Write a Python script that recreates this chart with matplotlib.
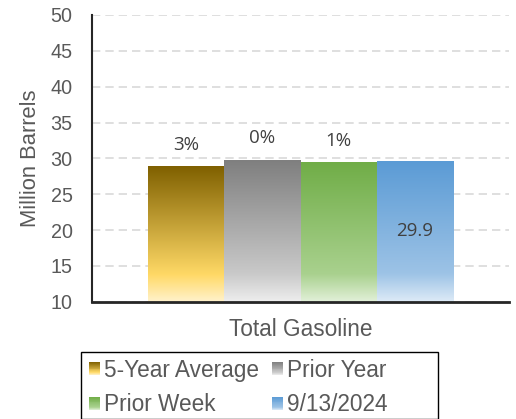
import numpy as np
import matplotlib
matplotlib.use("Agg")
import matplotlib.pyplot as plt
from matplotlib.colors import LinearSegmentedColormap
from matplotlib.legend_handler import HandlerBase
from matplotlib.patches import Rectangle

# ---- data ----
categories = ["Total Gasoline"]
series_names = ["5-Year Average", "Prior Year", "Prior Week", "9/13/2024"]
values = [28.9, 29.8, 29.4, 29.6]
pct_labels = ["3%", "0%", "1%", ""]
value_labels = ["", "", "", "29.9"]
y_ticks = [10, 15, 20, 25, 30, 35, 40, 45, 50]

# gradient stops, top -> bottom
grad_stops = [
    [(0.0, "#7F6000"), (0.8, "#FFD966"), (1.0, "#FFF2CC")],
    [(0.0, "#7F7F7F"), (0.8, "#C9C9C9"), (1.0, "#EEEEEE")],
    [(0.0, "#70AD47"), (0.8, "#A9D18E"), (1.0, "#E2F0D9")],
    [(0.0, "#5B9BD5"), (0.8, "#9DC3E6"), (1.0, "#DEEBF7")],
]
cmaps = [LinearSegmentedColormap.from_list(f"g{i}", s) for i, s in enumerate(grad_stops)]

TXT = "#595959"
FONT = "Liberation Sans"
W, H = 516, 419

fig = plt.figure(figsize=(W / 100, H / 100), dpi=100)
ax = fig.add_axes([92 / W, 1 - 301.7 / H, 417 / W, (301.7 - 15) / H])

x = np.arange(len(series_names))
ymin, ymax = 10, 50
bars = ax.bar(x, values, width=1.0, color="none", edgecolor="none", zorder=2)
grad = np.linspace(0, 1, 256).reshape(-1, 1)
for b, cm in zip(bars, cmaps):
    x0 = b.get_x()
    ax.imshow(grad, extent=(x0, x0 + b.get_width(), ymin, b.get_height()),
              aspect="auto", cmap=cm, origin="upper", zorder=2,
              interpolation="bilinear")

ax.set_xlim(-1.24, len(series_names) - 1 + 1.24)
ax.set_ylim(ymin, ymax)

for b, p, v in zip(bars, pct_labels, value_labels):
    cx = b.get_x() + b.get_width() / 2
    if p:
        ax.annotate(p, (cx, b.get_height()), xytext=(0, 15.5), textcoords="offset points",
                    ha="center", va="center", fontsize=13.5, family="Open Sans",
                    color="#404040")
    if v:
        ax.text(cx, (ymin + b.get_height()) / 2, v, ha="center", va="center",
                fontsize=13.5, family="Open Sans", color="#404040", zorder=3)

ax.set_yticks(y_ticks)
ax.set_xticks([x.mean()])
ax.set_xticklabels(categories)
ax.tick_params(axis="y", length=0, pad=14, labelsize=14.2, labelcolor=TXT)
ax.tick_params(axis="x", length=0, pad=12, labelsize=16.3, labelcolor=TXT)
for lab in ax.get_xticklabels() + ax.get_yticklabels():
    lab.set_family(FONT)
ax.set_ylabel("Million Barrels", fontsize=15.8, family=FONT, color=TXT, labelpad=6.5)

ax.yaxis.grid(True, linestyle=(0, (5, 3)), color="#D9D9D9", lw=1.2)
ax.set_axisbelow(True)
for s in ["top", "right"]:
    ax.spines[s].set_visible(False)
ax.spines["left"].set_color("#262626")
ax.spines["left"].set_linewidth(1.5)
ax.spines["bottom"].set_color("#262626")
ax.spines["bottom"].set_linewidth(2)


class GradHandler(HandlerBase):
    def __init__(self, cmap):
        super().__init__()
        self.cmap = cmap

    def create_artists(self, legend, orig_handle, xdescent, ydescent, width, height,
                       fontsize, trans):
        n = 14
        arts = []
        for i in range(n):
            y = -ydescent + height * (1 - (i + 1) / n)
            r = Rectangle((-xdescent, y), width, height / n + 0.01,
                          facecolor=self.cmap((i + 0.5) / n), edgecolor="none",
                          transform=trans)
            arts.append(r)
        return arts


handles = [Rectangle((0, 0), 1, 1) for _ in series_names]
order = [0, 2, 1, 3]
hmap = {handles[i]: GradHandler(cmaps[i]) for i in range(len(handles))}
leg = fig.legend([handles[i] for i in order], [series_names[i] for i in order],
                 handler_map=hmap, ncol=2, loc="center left",
                 bbox_to_anchor=(89.3 / W, 1 - 387.5 / H), frameon=False,
                 borderpad=0, borderaxespad=0,
                 prop={"family": FONT, "size": 16.3}, labelcolor=TXT,
                 handlelength=0.49, handleheight=0.49, handletextpad=0.18,
                 columnspacing=0.55, labelspacing=0.52)

# legend box (Excel-style, wider than its contents)
fig.patches.append(Rectangle((80.7 / W, 1 - 418.5 / H), 357 / W, 66.2 / H,
                             transform=fig.transFigure, facecolor="none",
                             edgecolor="black", lw=1.0))

fig.savefig("out.png", dpi=100)
